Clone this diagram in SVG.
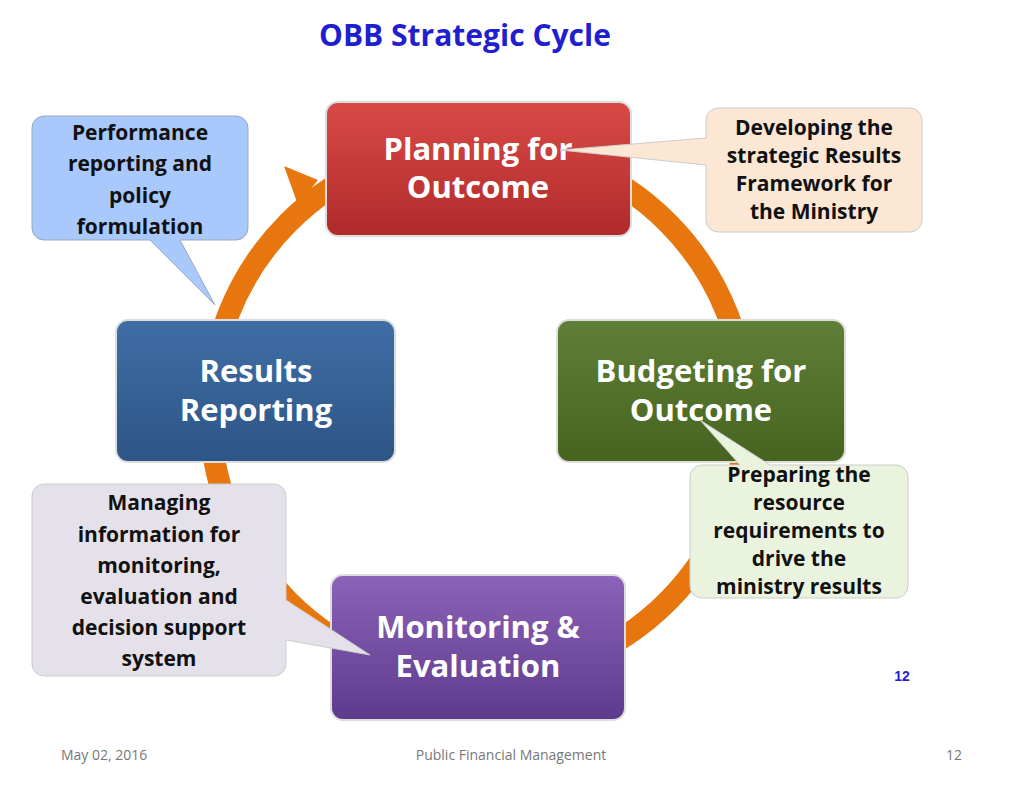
<svg xmlns="http://www.w3.org/2000/svg" width="1024" height="791" viewBox="0 0 1024 791">
<defs>
<linearGradient id="gr" x1="0" y1="0" x2="0" y2="1"><stop offset="0" stop-color="#d94a47"/><stop offset="1" stop-color="#b02a2a"/></linearGradient>
<linearGradient id="gg" x1="0" y1="0" x2="0" y2="1"><stop offset="0" stop-color="#5f7f38"/><stop offset="1" stop-color="#46641f"/></linearGradient>
<linearGradient id="gb" x1="0" y1="0" x2="0" y2="1"><stop offset="0" stop-color="#3f6ea5"/><stop offset="1" stop-color="#2d5586"/></linearGradient>
<linearGradient id="gp" x1="0" y1="0" x2="0" y2="1"><stop offset="0" stop-color="#8b63b8"/><stop offset="1" stop-color="#5e3a8c"/></linearGradient>
</defs>
<style>
.n{stroke:#dddddd;stroke-width:2}
.t{font-family:"Open Sans","Liberation Sans",sans-serif;font-weight:bold;fill:#fff;font-size:31px;text-anchor:middle}
.c{font-family:"Open Sans","Liberation Sans",sans-serif;font-weight:bold;fill:#111;font-size:21px;text-anchor:middle}
.f{font-family:"Open Sans","Liberation Sans",sans-serif;fill:#777;font-size:14px}
</style>
<rect width="1024" height="791" fill="#fff"/>
<text x="465" y="46" text-anchor="middle" font-family="Open Sans,Liberation Sans,sans-serif" font-weight="bold" font-size="30" fill="#1f1fd0">OBB Strategic Cycle</text>
<g id="connectors">
<circle cx="478" cy="412" r="268" fill="none" stroke="#e8760e" stroke-width="22"/>
<polygon points="318,180 284,166 298,205" fill="#e8760e"/>
</g>
<g id="planning"><rect class="n" x="326" y="102" width="305" height="134" rx="12" fill="url(#gr)"/><text class="t" x="478" y="160">Planning for</text><text class="t" x="478" y="198">Outcome</text></g>
<g id="budgeting"><rect class="n" x="557" y="320" width="288" height="142" rx="12" fill="url(#gg)"/><text class="t" x="701" y="382">Budgeting for</text><text class="t" x="701" y="421">Outcome</text></g>
<g id="results"><rect class="n" x="116" y="320" width="279" height="142" rx="12" fill="url(#gb)"/><text class="t" x="256" y="382">Results</text><text class="t" x="256" y="421">Reporting</text></g>
<g id="monitoring"><rect class="n" x="331" y="575" width="294" height="145" rx="12" fill="url(#gp)"/><text class="t" x="478" y="638">Monitoring &amp;</text><text class="t" x="478" y="677">Evaluation</text></g>
<g id="c1"><path d="M44,116 H236 A12,12 0 0 1 248,128 V228 A12,12 0 0 1 236,240 H180 L215,305 L150,240 H44 A12,12 0 0 1 32,228 V128 A12,12 0 0 1 44,116 Z" fill="#a9c8fb" stroke="#9ab" stroke-width="1"/>
<text class="c" x="140" y="140">Performance</text><text class="c" x="140" y="171">reporting and</text><text class="c" x="140" y="203">policy</text><text class="c" x="140" y="234">formulation</text></g>
<g id="c2"><path d="M718,108 H910 A12,12 0 0 1 922,120 V220 A12,12 0 0 1 910,232 H718 A12,12 0 0 1 706,220 V165 L560,150 L706,138 V120 A12,12 0 0 1 718,108 Z" fill="#fbe7d4" stroke="#ccc" stroke-width="1"/>
<text class="c" x="814" y="135">Developing the</text><text class="c" x="814" y="163">strategic Results</text><text class="c" x="814" y="191">Framework for</text><text class="c" x="814" y="219">the Ministry</text></g>
<g id="c3"><path d="M702,465 H740 L700,420 L770,465 H896 A12,12 0 0 1 908,477 V586 A12,12 0 0 1 896,598 H702 A12,12 0 0 1 690,586 V477 A12,12 0 0 1 702,465 Z" fill="#eaf3de" stroke="#ccc" stroke-width="1"/>
<text class="c" x="799" y="482">Preparing the</text><text class="c" x="799" y="510">resource</text><text class="c" x="799" y="538">requirements to</text><text class="c" x="799" y="566">drive the</text><text class="c" x="799" y="594">ministry results</text></g>
<g id="c4"><path d="M44,484 H274 A12,12 0 0 1 286,496 V600 L370,655 L286,640 V664 A12,12 0 0 1 274,676 H44 A12,12 0 0 1 32,664 V496 A12,12 0 0 1 44,484 Z" fill="#e5e1ea" stroke="#ccc" stroke-width="1"/>
<text class="c" x="159" y="510">Managing</text><text class="c" x="159" y="542">information for</text><text class="c" x="159" y="573">monitoring,</text><text class="c" x="159" y="604">evaluation and</text><text class="c" x="159" y="635">decision support</text><text class="c" x="159" y="666">system</text></g>
<text x="902" y="681" text-anchor="middle" font-family="Liberation Sans,sans-serif" font-weight="bold" font-size="14" fill="#1f1fd0">12</text>
<text class="f" x="61" y="760">May 02, 2016</text>
<text class="f" x="511" y="760" text-anchor="middle">Public Financial Management</text>
<text class="f" x="962" y="760" text-anchor="end">12</text>
</svg>
